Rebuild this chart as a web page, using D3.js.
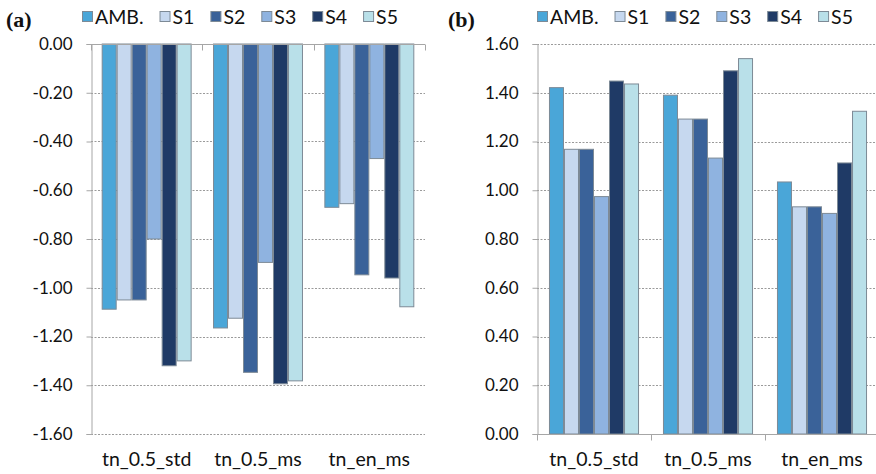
<!DOCTYPE html>
<html><head><meta charset="utf-8">
<script src="https://cdn.jsdelivr.net/npm/d3@7"></script>
<style>body{margin:0;background:#fff}svg{display:block}</style>
</head><body><svg id="c" width="876" height="474"></svg>
<script>
const categories = ["tn_0.5_std", "tn_0.5_ms", "tn_en_ms"];
const seriesNames = ["AMB.", "S1", "S2", "S3", "S4", "S5"];
const colors = ["#4AA6D8", "#C6D8EF", "#3A6299", "#8FB3E0", "#1F3A66", "#B9E0E9"];
// panel (a) values per series, indexed by category
const aAMB = [-1.088, -1.165, -0.670];
const aS1  = [-1.050, -1.125, -0.655];
const aS2  = [-1.050, -1.347, -0.947];
const aS3  = [-0.800, -0.896, -0.470];
const aS4  = [-1.320, -1.394, -0.960];
const aS5  = [-1.300, -1.382, -1.078];
// panel (b) values
const bAMB = [1.421, 1.390, 1.034];
const bS1  = [1.168, 1.292, 0.932];
const bS2  = [1.168, 1.292, 0.932];
const bS3  = [0.974, 1.132, 0.905];
const bS4  = [1.448, 1.490, 1.112];
const bS5  = [1.436, 1.540, 1.324];
const aTicks = [0, -0.2, -0.4, -0.6, -0.8, -1.0, -1.2, -1.4, -1.6];
const bTicks = [0, 0.2, 0.4, 0.6, 0.8, 1.0, 1.2, 1.4, 1.6];

const svg = d3.select("#c");
const FONT = "Lato, 'Open Sans', sans-serif";

function panel(o) {
  const g = svg.append("g");
  const y = d3.scaleLinear().domain(o.domain).range([434, 44]);
  const x0 = d3.scaleBand().domain(categories).range([o.left, o.right])
    .paddingInner(o.pad).paddingOuter(o.pad / 2);
  const x1 = d3.scaleBand().domain(seriesNames).range([0, x0.bandwidth()]);
  const gridEnd = o.gridEnd;
  // gridlines
  g.selectAll("line.grid").data(o.ticks.filter(t => t !== o.axisVal)).join("line")
    .attr("x1", o.left).attr("x2", gridEnd)
    .attr("y1", d => Math.round(y(d)) + 0.5).attr("y2", d => Math.round(y(d)) + 0.5)
    .attr("stroke", "#9a9a9a").attr("stroke-width", 1).attr("stroke-dasharray", "2,1.5");
  // y axis
  const ya = d3.axisLeft(y).tickValues(o.ticks).tickFormat(d3.format(".2f")).tickSize(5).tickPadding(14);
  const yg = g.append("g").attr("transform", `translate(${o.left + 0.5},0)`).call(ya);
  yg.select(".domain").attr("stroke", "#a6a6a6");
  yg.selectAll(".tick line").attr("stroke", "#a6a6a6");
  yg.selectAll(".tick text").attr("font-family", FONT).attr("font-size", 17).attr("fill", "#111")
    .text(d => d3.format(".2f")(d).replace("−", "-"));
  // bars
  const rows = seriesNames.map((s, i) => ({ s, i, vals: o.values[i] }));
  const sg = g.selectAll("g.series").data(rows).join("g");
  sg.selectAll("rect").data(r => r.vals.map((v, k) => ({ v, c: categories[k], s: r.s, i: r.i }))).join("rect")
    .attr("x", d => x0(d.c) + x1(d.s) + 0.5)
    .attr("width", x1.bandwidth() - 1)
    .attr("y", d => Math.min(y(d.v), y(0)))
    .attr("height", d => Math.abs(y(d.v) - y(0)))
    .attr("fill", d => colors[d.i])
    .attr("stroke", "#7d8a96").attr("stroke-width", 1);
  // category axis line
  const ay = Math.round(y(o.axisVal)) + 0.5;
  g.append("line").attr("x1", o.left).attr("x2", gridEnd).attr("y1", ay).attr("y2", ay)
    .attr("stroke", "#a6a6a6");
  const bounds = [o.left].concat(categories.map(c => x0(c) - x0.step() * o.pad / 2 + x0.step()));
  g.selectAll("line.ct").data(bounds).join("line")
    .attr("x1", d => Math.round(d) + 0.5).attr("x2", d => Math.round(d) + 0.5)
    .attr("y1", ay).attr("y2", ay + 6).attr("stroke", "#a6a6a6");
  // category labels
  g.selectAll("text.cat").data(categories).join("text")
    .attr("x", d => x0(d) + x0.bandwidth() / 2).attr("y", 466)
    .attr("text-anchor", "middle").attr("font-family", FONT).attr("font-size", 19.5).attr("fill", "#111")
    .text(d => d);
  // legend
  let lx = o.legendX;
  seriesNames.forEach((s, i) => {
    g.append("rect").attr("x", lx + 0.5).attr("y", 11.5).attr("width", 10).attr("height", 10)
      .attr("fill", colors[i]).attr("stroke", "#7d8a96");
    const t = g.append("text").attr("x", lx + 13).attr("y", 23.5)
      .attr("font-family", FONT).attr("font-size", 19.5).attr("fill", "#111").text(s);
    lx += 13 + t.node().getComputedTextLength() + 16;
  });
  // panel label
  g.append("text").attr("x", o.labelX).attr("y", 27).attr("font-family", "'Liberation Serif', 'DejaVu Serif', serif")
    .attr("font-weight", "bold").attr("font-size", 22).attr("fill", "#111").text(o.label);
}

panel({ domain: [-1.6, 0], ticks: aTicks, axisVal: 0, left: 91, right: 425, gridEnd: 425, pad: 0.192,
  values: [aAMB, aS1, aS2, aS3, aS4, aS5], legendX: 82, labelX: 6, label: "(a)" });
panel({ domain: [0, 1.6], ticks: bTicks, axisVal: 0, left: 537, right: 879, gridEnd: 876, pad: 0.21,
  values: [bAMB, bS1, bS2, bS3, bS4, bS5], legendX: 537, labelX: 448, label: "(b)" });
</script></body></html>
